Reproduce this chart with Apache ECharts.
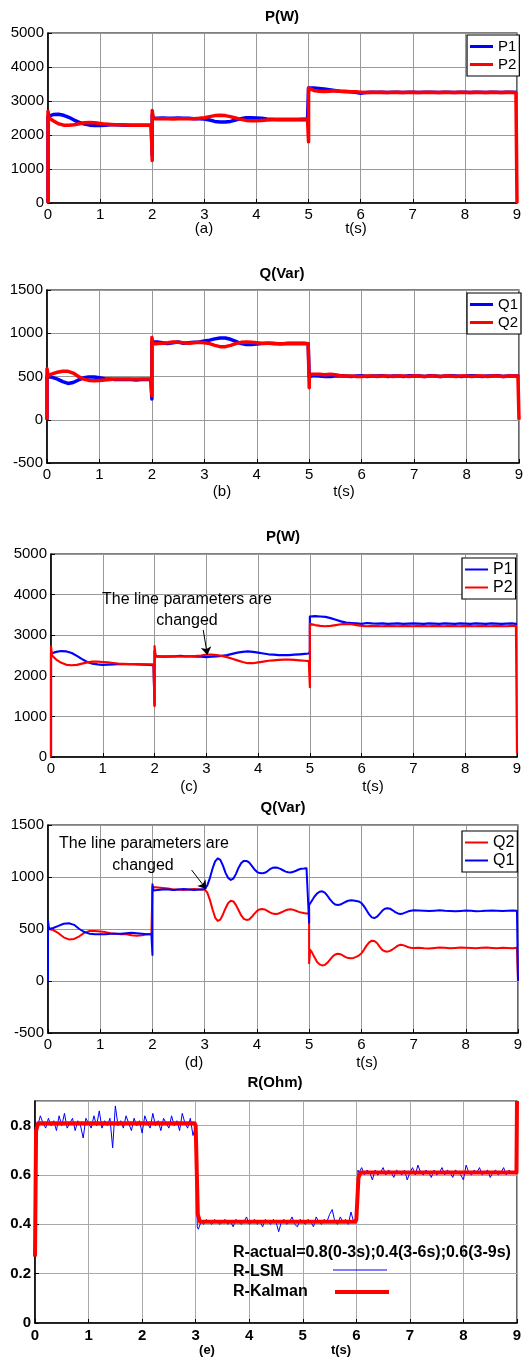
<!DOCTYPE html>
<html><head><meta charset="utf-8">
<script src="https://cdn.jsdelivr.net/npm/echarts@6/dist/echarts.min.js"></script>
<style>html,body{margin:0;padding:0;background:#fff}#c{width:528px;height:1360px}</style>
</head><body><div id="c"></div>
<script>
// ---------- time bases (s) ----------
const tA = [0,0,0.02,0.1,0.2,0.3,0.4,0.5,0.6,0.7,0.8,0.9,1,1.1,1.2,1.3,1.4,1.5,1.6,1.7,1.8,1.9,1.98,
2,2,2.02,2.1,2.2,2.3,2.4,2.5,2.6,2.7,2.8,2.9,3,3.1,3.2,3.3,3.4,3.5,3.6,3.7,3.8,3.9,4,4.1,4.2,4.3,4.4,4.5,4.6,4.7,4.8,4.9,4.98,
5,5,5.02,5.1,5.2,5.3,5.4,5.5,5.6,5.7,5.8,5.9,6,6.1,6.2,6.3,6.4,6.5,6.6,6.7,6.8,6.9,7,7.1,7.2,7.3,7.4,7.5,7.6,7.7,7.8,7.9,8,8.1,8.2,8.3,8.4,8.5,8.6,8.7,8.8,8.9,8.98,9];

const tD = [0,0,0.02,0.1,0.2,0.3,0.4,0.5,0.6,0.7,0.8,0.9,1,1.1,1.2,1.3,1.4,1.5,1.6,1.7,1.8,1.9,1.98,
2,2,2.02,2.1,2.2,2.3,2.4,2.5,2.6,2.7,2.8,2.9,
2.95,3,3.05,3.1,3.15,3.2,3.25,3.3,3.35,3.4,3.45,3.5,3.55,3.6,3.65,3.7,3.75,3.8,3.85,3.9,3.95,4,4.05,4.1,4.15,4.2,4.25,4.3,4.35,4.4,4.45,4.5,4.55,4.6,4.65,4.7,4.75,4.8,4.85,4.9,4.95,4.98,
5,5,5.02,5.05,5.1,5.15,5.2,5.25,5.3,5.35,5.4,5.45,5.5,5.55,5.6,5.65,5.7,5.75,5.8,5.85,5.9,5.95,6,6.05,6.1,6.15,6.2,6.25,6.3,6.35,6.4,6.45,6.5,6.55,6.6,6.65,6.7,6.75,6.8,6.85,6.9,6.95,
7,7.1,7.2,7.3,7.4,7.5,7.6,7.7,7.8,7.9,8,8.1,8.2,8.3,8.4,8.5,8.6,8.7,8.8,8.9,8.98,9];

const tE = [0,0.05,0.1,0.15,0.2,0.25,0.3,0.35,0.4,0.45,0.5,0.55,0.6,0.65,0.7,0.75,0.8,0.85,0.9,0.95,
1,1.05,1.1,1.15,1.2,1.25,1.3,1.35,1.4,1.45,1.5,1.55,1.6,1.65,1.7,1.75,1.8,1.85,1.9,1.95,
2,2.05,2.1,2.15,2.2,2.25,2.3,2.35,2.4,2.45,2.5,2.55,2.6,2.65,2.7,2.75,2.8,2.85,2.9,2.95,
3,3.03,
3.05,3.1,3.15,3.2,3.25,3.3,3.35,3.4,3.45,3.5,3.55,3.6,3.65,3.7,3.75,3.8,3.85,3.9,3.95,4,
4.05,4.1,4.15,4.2,4.25,4.3,4.35,4.4,4.45,4.5,4.55,4.6,4.65,4.7,4.75,4.8,4.85,4.9,4.95,5,
5.05,5.1,5.15,5.2,5.25,5.3,5.35,5.4,5.45,5.5,5.55,5.6,5.65,5.7,5.75,5.8,5.85,5.9,5.95,
6,6.03,
6.05,6.1,6.15,6.2,6.25,6.3,6.35,6.4,6.45,6.5,6.55,6.6,6.65,6.7,6.75,6.8,6.85,6.9,6.95,7,
7.05,7.1,7.15,7.2,7.25,7.3,7.35,7.4,7.45,7.5,7.55,7.6,7.65,7.7,7.75,7.8,7.85,7.9,7.95,8,
8.05,8.1,8.15,8.2,8.25,8.3,8.35,8.4,8.45,8.5,8.55,8.6,8.65,8.7,8.75,8.8,8.85,8.9,8.95,
9];

// ---------- (a) P(W) ----------
const P1a = [0,2550,2580,2600,2610,2580,2520,2440,2370,2320,2290,2280,2280,2290,2300,2300,2295,2290,2290,2285,2290,2290,2290,
1400,2600,2500,2490,2500,2490,2495,2500,2490,2490,2480,2480,2470,2440,2400,2380,2380,2400,2440,2480,2510,2510,2500,2490,2470,2460,2450,2450,2450,2450,2450,2450,2450,
2400,3380,3380,3380,3370,3350,3330,3310,3290,3280,3270,3260,
3230,3250,3260,3255,3260,3250,3255,3260,3250,3255,3260,3250,3255,3260,3255,3250,3260,3255,3250,3260,3255,3250,3260,3255,3250,3260,3255,3250,3260,3255,
3250,3250];
const P2a = [0,2700,2500,2420,2330,2290,2285,2300,2330,2360,2370,2360,2340,2320,2310,2300,2300,2295,2290,2290,2285,2285,2280,
1250,2720,2480,2480,2475,2480,2470,2480,2475,2480,2480,2490,2510,2540,2570,2580,2570,2540,2500,2460,2430,2420,2420,2430,2440,2450,2460,2460,2460,2460,2460,2470,2470,
1800,3380,3330,3310,3290,3280,3290,3300,3290,3280,3270,3270,
3260,3250,3255,3250,3255,3250,3250,3255,3250,3250,3255,3250,3250,3255,3250,3250,3255,3250,3250,3255,3250,3250,3255,3250,3250,3255,3250,3250,3255,3250,
3250,0];

// ---------- (b) Q(Var) ----------
const Q1b = [0,500,500,490,470,440,420,430,460,485,495,495,485,475,470,465,465,465,465,460,465,465,465,
240,900,890,900,890,880,890,900,885,890,895,900,910,920,935,945,945,930,905,880,870,870,875,880,885,885,880,880,885,885,885,885,880,
500,520,515,510,505,500,500,505,510,505,500,505,
510,500,505,505,510,500,505,505,500,510,505,505,500,510,505,500,505,510,505,500,505,510,505,500,505,505,510,500,505,505,
505,500];
const Q2b = [0,590,510,530,550,560,560,540,500,470,455,450,455,460,465,470,470,470,470,470,470,470,470,
280,950,880,880,885,890,900,895,890,885,890,895,890,880,860,845,845,860,880,895,900,895,890,885,885,880,880,880,880,880,880,880,880,
370,530,525,525,525,520,525,520,510,505,505,500,
500,505,505,500,505,505,500,505,505,500,505,505,500,505,505,500,505,505,500,505,505,500,505,505,500,505,505,500,505,505,
505,0];

// ---------- (c) P(W), line parameters changed ----------
const P1c = [0,2550,2560,2590,2610,2600,2560,2490,2410,2340,2300,2280,2270,2275,2280,2285,2290,2290,2285,2280,2275,2270,2260,
1280,2600,2480,2480,2470,2480,2480,2490,2480,2480,2470,2470,2460,2470,2480,2490,2510,2540,2570,2590,2600,2590,2570,2550,2530,2520,2510,2510,2510,2520,2530,2540,2550,
2600,3460,3470,3470,3460,3450,3420,3380,3340,3310,3300,3290,
3280,3300,3290,3285,3290,3280,3285,3290,3280,3285,3290,3285,3280,3290,3285,3280,3290,3285,3280,3290,3285,3280,3290,3285,3280,3290,3285,3280,3285,3290,
3280,3280];
const P2c = [0,2720,2500,2400,2320,2270,2260,2270,2300,2330,2350,2350,2340,2330,2315,2300,2295,2290,2285,2280,2280,2280,2280,
1250,2730,2480,2470,2480,2470,2480,2475,2480,2485,2490,2500,2520,2520,2510,2490,2460,2420,2380,2340,2310,2310,2330,2350,2370,2380,2390,2400,2400,2390,2380,2370,2360,
1720,3280,3270,3250,3230,3220,3230,3250,3270,3280,3270,3250,
3230,3220,3230,3225,3220,3230,3225,3220,3230,3225,3220,3230,3225,3220,3230,3225,3220,3230,3225,3220,3230,3225,3220,3230,3225,3220,3230,3225,3220,3230,
3230,100];

// ---------- (d) Q(Var), line parameters changed ----------
const Q2d = [0,500,500,490,460,420,400,405,430,465,480,480,475,470,460,455,450,450,440,435,440,450,450,
450,905,900,900,895,890,880,880,875,880,885,880,
880,880,850,780,690,610,578,590,640,700,750,772,765,730,680,630,598,587,592,615,645,672,688,692,688,675,660,648,644,646,656,668,680,688,689,684,675,665,658,653,650,
650,
650,170,300,
280,230,185,160,150,155,175,205,235,255,262,258,245,230,220,218,222,232,245,265,300,340,372,388,385,365,330,300,285,282,290,305,322,340,348,345,335,325,320,
318,320,315,312,318,322,320,315,318,322,320,318,315,320,322,318,315,320,318,315,
320,0];
const Q1d = [0,580,500,510,530,550,555,540,500,470,455,450,450,450,455,455,455,460,465,460,455,450,450,
250,930,870,875,880,880,875,880,885,880,875,880,
880,885,920,990,1080,1150,1180,1165,1110,1040,990,972,985,1030,1090,1135,1155,1155,1140,1110,1075,1050,1038,1035,1040,1055,1075,1088,1092,1088,1078,1065,1052,1045,1043,1050,1060,1072,1080,1082,1085,
1085,
560,730,745,
770,810,840,858,862,850,820,785,755,735,730,735,748,762,772,776,775,770,765,750,720,680,640,612,605,618,645,675,695,700,695,680,663,650,645,650,660,670,676,
680,678,675,672,676,680,675,672,670,674,678,675,670,672,676,678,675,672,676,678,
675,0];

// ---------- (e) R(Ohm) ----------
const R_LSM = [0.82,0.80,0.84,0.81,0.79,0.83,0.80,0.82,0.78,0.84,
0.80,0.85,0.79,0.81,0.83,0.78,0.82,0.80,0.75,0.83,
0.81,0.79,0.84,0.80,0.86,0.79,0.82,0.80,0.83,0.71,
0.88,0.80,0.82,0.79,0.84,0.81,0.78,0.83,0.80,0.82,
0.77,0.84,0.81,0.79,0.85,0.80,0.82,0.78,0.83,0.81,
0.79,0.84,0.80,0.82,0.78,0.85,0.81,0.79,0.83,0.76,
0.80,0.39,
0.38,0.41,0.40,0.42,0.41,0.40,0.42,0.41,0.40,0.41,
0.42,0.40,0.41,0.39,0.42,0.41,0.40,0.41,0.43,0.40,
0.41,0.42,0.40,0.41,0.39,0.42,0.41,0.40,0.42,0.41,
0.37,0.41,0.42,0.40,0.41,0.43,0.40,0.39,0.42,0.41,
0.40,0.42,0.41,0.39,0.43,0.41,0.40,0.42,0.41,0.44,
0.46,0.41,0.40,0.43,0.41,0.42,0.40,0.45,0.41,
0.41,0.62,
0.61,0.63,0.60,0.62,0.61,0.58,0.62,0.60,0.61,0.63,
0.60,0.62,0.61,0.59,0.62,0.61,0.60,0.62,0.58,0.61,
0.63,0.60,0.64,0.61,0.60,0.62,0.61,0.59,0.62,0.60,
0.61,0.63,0.60,0.62,0.61,0.59,0.62,0.61,0.60,0.58,
0.64,0.61,0.60,0.62,0.61,0.63,0.60,0.61,0.62,0.59,
0.61,0.62,0.60,0.61,0.63,0.60,0.62,0.61,0.61,
0.61];
const tKalman = [0,0.02,0.06,1,2,2.98,3,3.04,3.08,4,5,5.98,6,6.04,6.08,7,8,8.99,9];
const R_Kalman = [0.27,0.78,0.81,0.81,0.81,0.81,0.80,0.44,0.41,0.41,0.41,0.41,0.42,0.59,0.61,0.61,0.61,0.61,0.9];

// annotation arrows (data units: [t, value])
const arrowC = [[2.94,3128],[3.02,2512]];
const arrowD = [[2.75,1067],[3.03,885]];

// ---------- chart ----------
const BLUE = '#0000ff', RED = '#ff0000';
const FONT = '"Liberation Sans", Arial, sans-serif';
const zip = (t, v) => t.map((x, i) => [x, v[i]]);

const grids = [
  {left:48, top:33, width:469, height:170},
  {left:47, top:290, width:472, height:173},
  {left:51, top:554, width:466, height:203},
  {left:48, top:825, width:470, height:208},
  {left:35, top:1101, width:482, height:222}
].map(g => Object.assign(g, {show:true, borderColor:'#000', borderWidth:1.2, backgroundColor:'#fff', containLabel:false, outerBoundsMode:'none'}));

function xAx(i, bold) {
  return {type:'value', gridIndex:i, min:0, max:9, interval:1,
    axisLine:{show:true, onZero:false, lineStyle:{color:'#000', width:1.5}},
    axisTick:{show:true, inside:true, length:4, lineStyle:{color:'#000', width:1}},
    axisLabel:{margin: bold ? 5 : 4, color:'#000', fontSize:15, fontWeight: bold ? 'bold' : 'normal', fontFamily:FONT,
      formatter: v => String(v)},
    splitLine:{show:true, lineStyle:{color: bold ? '#aaa' : '#999', width:1}}};
}
function yAx(i, min, max, interval, bold) {
  return {type:'value', gridIndex:i, min, max, interval,
    axisLine:{show:true, onZero:false, lineStyle:{color:'#000', width:1.5}},
    axisTick:{show:true, inside:true, length:4, lineStyle:{color:'#000', width:1}},
    axisLabel:{margin:4, color:'#000', fontSize:15, fontWeight: bold ? 'bold' : 'normal', fontFamily:FONT,
      showMaxLabel: !bold,
      formatter: v => bold ? (v === 0 ? '0' : v.toFixed(1)) : String(v)},
    splitLine:{show:true, lineStyle:{color: bold ? '#aaa' : '#999', width:1}}};
}
function line(name, gi, data, color, width, extra) {
  return Object.assign({type:'line', name, xAxisIndex:gi, yAxisIndex:gi, data, color,
    showSymbol:false, symbol:'none', silent:true, animation:false,
    lineStyle:{color, width, join:'round'}, itemStyle:{color}}, extra || {});
}
function arrow(pts) {
  return {markLine:{silent:true, animation:false, symbol:['none','arrow'], symbolSize:8,
    lineStyle:{color:'#000', width:1, type:'solid'}, label:{show:false},
    data:[[{coord:pts[0]},{coord:pts[1]}]]}};
}
function legendBox(left, top, data, ih, fs) {
  return {left, top, orient:'vertical', data, icon:'rect', itemWidth:23, itemHeight:ih, itemGap:1,
    padding:[3,3,3,3], borderColor:'#000', borderWidth:1.2, backgroundColor:'#fff', selectedMode:false,
    itemStyle:{borderWidth:0}, textStyle:{fontSize:fs, lineHeight:17, color:'#000', fontFamily:FONT}};
}
function txt(x, y, text, font, align) {
  return {type:'text', x, y, silent:true, z:100,
    style:{text, font, fill:'#000', align: align || 'center', verticalAlign:'middle',
      textAlign: align || 'center', textVerticalAlign:'middle'}};
}

const option = {
  animation:false,
  backgroundColor:'#fff',
  grid: grids,
  xAxis: [xAx(0), xAx(1), xAx(2), xAx(3), xAx(4, true)],
  yAxis: [yAx(0, 0, 5000, 1000), yAx(1, -500, 1500, 500), yAx(2, 0, 5000, 1000), yAx(3, -500, 1500, 500), yAx(4, 0, 0.9, 0.2, true)],
  legend: [
    legendBox(467, 35, ['P1','P2'], 3, 15),
    legendBox(467, 293, ['Q1','Q2'], 3, 15),
    legendBox(462, 558, ['P1','P2'], 2, 16),
    legendBox(462, 831, ['Q2','Q1'], 2, 16)
  ],
  series: [
    line('P1', 0, zip(tA, P1a), BLUE, 3.5),
    line('P2', 0, zip(tA, P2a), RED, 3.5),
    line('Q1', 1, zip(tA, Q1b), BLUE, 3.5),
    line('Q2', 1, zip(tA, Q2b), RED, 3.5),
    line('P1', 2, zip(tA, P1c), BLUE, 2.2, arrow(arrowC)),
    line('P2', 2, zip(tA, P2c), RED, 2.2),
    line('Q2', 3, zip(tD, Q2d), RED, 2, arrow(arrowD)),
    line('Q1', 3, zip(tD, Q1d), BLUE, 2),
    line('R-LSM', 4, zip(tE, R_LSM), BLUE, 1),
    line('R-Kalman', 4, zip(tKalman, R_Kalman), RED, 4)
  ],
  graphic: [
    txt(282, 17, 'P(W)', 'bold 15px ' + FONT),
    txt(204, 229, '(a)', '15px ' + FONT),
    txt(356, 229, 't(s)', '15px ' + FONT),
    txt(282, 274, 'Q(Var)', 'bold 15px ' + FONT),
    txt(222, 492, '(b)', '15px ' + FONT),
    txt(344, 492, 't(s)', '15px ' + FONT),
    txt(283, 537, 'P(W)', 'bold 15px ' + FONT),
    txt(187, 600, 'The line parameters are', '16px ' + FONT),
    txt(187, 621, 'changed', '16px ' + FONT),
    txt(189, 787, '(c)', '15px ' + FONT),
    txt(373, 787, 't(s)', '15px ' + FONT),
    txt(283, 808, 'Q(Var)', 'bold 15px ' + FONT),
    txt(144, 844, 'The line parameters are', '16px ' + FONT),
    txt(143, 866, 'changed', '16px ' + FONT),
    txt(194, 1063, '(d)', '15px ' + FONT),
    txt(367, 1063, 't(s)', '15px ' + FONT),
    txt(275, 1083, 'R(Ohm)', 'bold 15px ' + FONT),
    txt(233, 1253, 'R-actual=0.8(0-3s);0.4(3-6s);0.6(3-9s)', 'bold 16px ' + FONT, 'left'),
    txt(233, 1272, 'R-LSM', 'bold 16px ' + FONT, 'left'),
    txt(233, 1292, 'R-Kalman', 'bold 16px ' + FONT, 'left'),
    {type:'line', silent:true, z:100, shape:{x1:333, y1:1270, x2:387, y2:1270}, style:{stroke:BLUE, lineWidth:1}},
    {type:'line', silent:true, z:100, shape:{x1:335, y1:1292, x2:389, y2:1292}, style:{stroke:RED, lineWidth:4}},
    txt(207, 1350, '(e)', 'bold 13px ' + FONT),
    txt(341, 1350, 't(s)', 'bold 13px ' + FONT)
  ]
};
const chart = echarts.init(document.getElementById('c'), null, {renderer:'canvas', width:528, height:1360});
chart.setOption(option);
</script>
</body></html>
